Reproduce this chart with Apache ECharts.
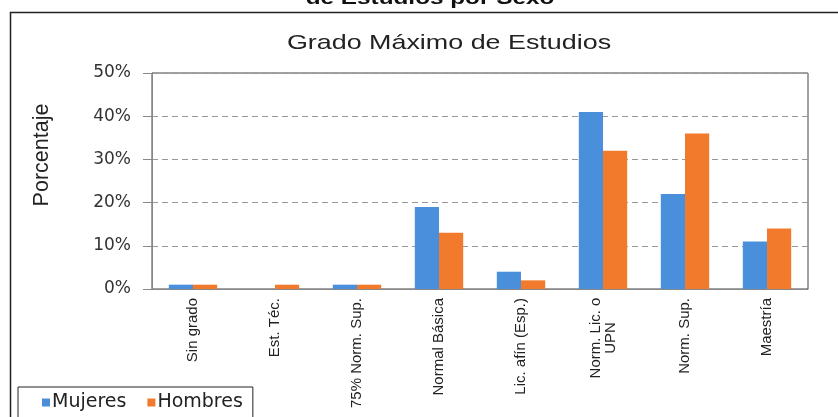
<!DOCTYPE html>
<html>
<head>
<meta charset="utf-8">
<script src="https://cdn.jsdelivr.net/npm/echarts@6/dist/echarts.min.js"></script>
<style>
  html, body { margin: 0; padding: 0; background: #fff; }
  #chart { width: 838px; height: 417px; }
</style>
</head>
<body>
<div id="chart"></div>
<script>
// categorias del eje x
const categories = ["Sin grado", "Est. Téc.", "75% Norm. Sup.", "Normal Básica",
  "Lic. afín (Esp.)", "Norm. Lic. o\nUPN", "Norm. Sup.", "Maestría"];
// porcentajes por sexo
const mujeres = [1, 0, 1, 19, 4, 41, 22, 11];
const hombres = [1, 1, 1, 13, 2, 32, 36, 14];
const yTicks = [0, 10, 20, 30, 40, 50];

const chart = echarts.init(document.getElementById("chart"));
const font = "Liberation Sans, Arial, sans-serif";
// la imagen original esta algo estirada a lo ancho
const stretch = 1.28;

let option = {
  backgroundColor: "#fff",
  animation: false,
  graphic: [
    {
      type: "rect",
      shape: { x: 10.5, y: 12.5, width: 860, height: 420 },
      style: { fill: "none", stroke: "#222", lineWidth: 1.5 },
      z: 0,
    },
    {
      // titulo superior cortado
      type: "group",
      x: 430,
      y: 8,
      scaleX: stretch,
      children: [{
        type: "text",
        style: { text: "de Estudios por Sexo", x: 0, y: 0, textAlign: "center",
          textVerticalAlign: "bottom", font: "bold 19px " + font, fill: "#111" },
      }],
    },
    {
      type: "group",
      x: 449,
      y: 43,
      scaleX: stretch,
      children: [{
        type: "text",
        style: { text: "Grado Máximo de Estudios", x: 0, y: 0, textAlign: "center",
          textVerticalAlign: "middle", font: "21px " + font, fill: "#222" },
      }],
    },
    {
      type: "text",
      x: 42,
      y: 155,
      rotation: Math.PI / 2,
      style: { text: "Porcentaje", x: 0, y: 0, textAlign: "center",
        textVerticalAlign: "middle", font: "21.5px " + font, fill: "#222" },
    },
  ],
  legend: {
    left: 18,
    top: 387,
    itemWidth: 8,
    itemHeight: 8,
    itemGap: 21,
    icon: "rect",
    borderColor: "#222",
    borderWidth: 1,
    padding: [6, 10, 10, 24],
    textStyle: { fontFamily: "DejaVu Sans", fontSize: 19, color: "#222", padding: [0, 0, 0, -3] },
    data: ["Mujeres", "Hombres"],
  },
  grid: {
    left: 152,
    right: 30,
    top: 73,
    bottom: 128,
    show: true,
    borderColor: "#444",
    borderWidth: 1,
  },
  xAxis: {
    type: "category",
    data: categories,
    axisLine: { lineStyle: { color: "#888" } },
    axisTick: { show: false },
    axisLabel: {
      rotate: 90,
      interval: 0,
      margin: 9,
      lineHeight: 15,
      fontFamily: font,
      fontSize: 15,
      color: "#222",
      align: "right",
      formatter: (v) => v.indexOf("\n") < 0 ? v : v.split("\n").map((s) => "{c|" + s + "}").join("\n"),
      rich: {
        c: { width: 80, align: "center", fontFamily: font, fontSize: 15, lineHeight: 15, color: "#222" },
      },
    },
  },
  yAxis: {
    type: "value",
    min: yTicks[0],
    max: yTicks[yTicks.length - 1],
    interval: 10,
    axisLine: { show: true, lineStyle: { color: "#888" } },
    axisTick: { show: true, inside: false, length: 9, lineStyle: { color: "#888" } },
    axisLabel: {
      margin: 21,
      fontFamily: "DejaVu Sans",
      fontSize: 17,
      color: "#333",
      formatter: "{value}%",
    },
    splitLine: { show: true, lineStyle: { color: "#999", type: [6, 4] } },
  },
  series: [
    {
      name: "Mujeres",
      type: "bar",
      data: mujeres,
      barGap: "0%",
      barCategoryGap: "41%",
      itemStyle: { color: "#4a8fdb" },
    },
    {
      name: "Hombres",
      type: "bar",
      data: hombres,
      itemStyle: { color: "#f27a2c" },
    },
  ],
};
chart.setOption(option);
</script>
</body>
</html>
